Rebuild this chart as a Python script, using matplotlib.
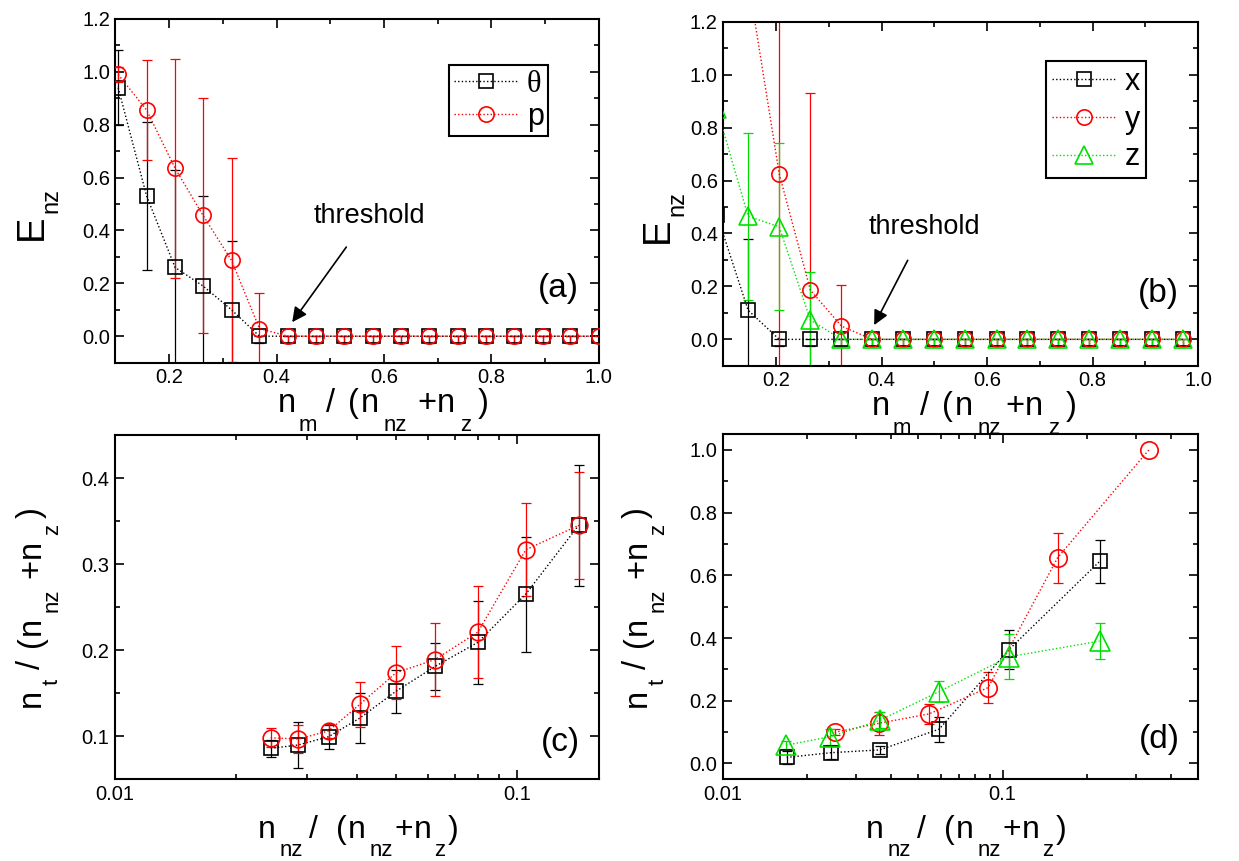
import numpy as np
import matplotlib
matplotlib.use("Agg")
import matplotlib.pyplot as plt
import matplotlib.ticker as mticker
from matplotlib.font_manager import FontProperties

plt.rcParams['font.family'] = ['Liberation Sans', 'DejaVu Sans']

# ---- panel (a): E_nz vs n_m/(n_nz+n_z), theta and p ----
xa = [0.105, 0.158, 0.211, 0.263, 0.316, 0.368, 0.421, 0.474, 0.526,
      0.579, 0.632, 0.684, 0.737, 0.789, 0.842, 0.895, 0.947, 1.0]
a_theta = [0.94, 0.53, 0.26, 0.19, 0.10, 0.0, 0, 0, 0, 0, 0, 0, 0, 0, 0, 0, 0, 0]
a_theta_err = [0.142, 0.28, 0.37, 0.34, 0.26, 0.025, 0.025, 0.025, 0.025, 0.025,
               0.025, 0.025, 0.025, 0.025, 0.025, 0.025, 0.025, 0.025]
a_p = [0.99, 0.855, 0.635, 0.457, 0.287, 0.029, 0, 0, 0, 0, 0, 0, 0, 0, 0, 0, 0, 0]
a_p_err = [0.03, 0.19, 0.415, 0.445, 0.386, 0.136, 0.025, 0.025, 0.025, 0.025,
           0.025, 0.025, 0.025, 0.025, 0.025, 0.025, 0.025, 0.025]

# ---- panel (b): E_nz, x / y / z ----
xb = [0.088, 0.147, 0.206, 0.265, 0.324, 0.382, 0.441, 0.5, 0.559,
      0.618, 0.676, 0.735, 0.794, 0.853, 0.912, 0.971]
b_x = [0.47, 0.11, 0, 0, 0, 0, 0, 0, 0, 0, 0, 0, 0, 0, 0, 0]
b_x_err = [0.05, 0.27, 0.025, 0.025, 0.025, 0.025, 0.025, 0.025, 0.025,
           0.025, 0.025, 0.025, 0.025, 0.025, 0.025, 0.025]
b_y = [1.6, 1.36, 0.625, 0.186, 0.05, 0, 0, 0, 0, 0, 0, 0, 0, 0, 0, 0]
b_y_err = [0.0, 0.0, 0.75, 0.744, 0.155, 0.025, 0.025, 0.025, 0.025,
           0.025, 0.025, 0.025, 0.025, 0.025, 0.025, 0.025]
b_z = [0.87, 0.465, 0.425, 0.073, 0, 0, 0, 0, 0, 0, 0, 0, 0, 0, 0, 0]
b_z_err = [0.0, 0.315, 0.315, 0.18, 0.025, 0.025, 0.025, 0.025, 0.025,
           0.025, 0.025, 0.025, 0.025, 0.025, 0.025, 0.025]

# ---- panel (c): n_t/(n_nz+n_z) vs n_nz/(n_nz+n_z), theta and p ----
xc = [0.0244, 0.0286, 0.034, 0.0407, 0.05, 0.0626, 0.08, 0.1052, 0.1424]
c_theta = [0.0857, 0.0896, 0.0992, 0.121, 0.152, 0.181, 0.209, 0.265, 0.345]
c_theta_err = [0.01, 0.027, 0.014, 0.029, 0.025, 0.027, 0.048, 0.067, 0.07]
c_p = [0.098, 0.0965, 0.106, 0.137, 0.1735, 0.189, 0.221, 0.3166, 0.345]
c_p_err = [0.011, 0.016, 0.008, 0.026, 0.031, 0.042, 0.054, 0.054, 0.062]

# ---- panel (d): x / y / z ----
xd_x = [0.0169, 0.0243, 0.0364, 0.0593, 0.1053, 0.2228]
d_x = [0.019, 0.034, 0.043, 0.109, 0.3625, 0.645]
d_x_err = [0.022, 0.02, 0.013, 0.04, 0.062, 0.068]
xd_y = [0.0251, 0.0362, 0.0547, 0.0888, 0.1573, 0.3334]
d_y = [0.099, 0.128, 0.158, 0.242, 0.656, 1.0]
d_y_err = [0.01, 0.036, 0.032, 0.05, 0.08, 0.0]
xd_z = [0.0168, 0.0242, 0.0364, 0.0593, 0.1053, 0.2222]
d_z = [0.058, 0.085, 0.1375, 0.229, 0.34, 0.39]
d_z_err = [0.012, 0.025, 0.025, 0.033, 0.072, 0.058]

BLACK = 'black'
RED = '#ff0000'
GREEN = '#00e000'
DOT = (0, (1.0, 1.6))
W, H = 1239, 861

# label pieces: (text, 'n' main / 's' subscript, gap before in px)
LBL_A_X = [('n', 'n', 0), ('m', 's', 3), ('/', 'n', 9), ('(', 'n', 13), ('n', 'n', 1),
           ('nz', 's', 5), ('+', 'n', 10), ('n', 'n', 1), ('z', 's', 5), (')', 'n', 6)]
LBL_B_X = [('n', 'n', 0), ('m', 's', 3), ('/', 'n', 9), ('(', 'n', 13), ('n', 'n', 1),
           ('nz', 's', 5), ('+', 'n', 4), ('n', 'n', 1), ('z', 's', 5), (')', 'n', 6)]
LBL_CD_X = [('n', 'n', 0), ('nz', 's', 4), ('/', 'n', 6), ('(', 'n', 18), ('n', 'n', 1),
            ('nz', 's', 4), ('+', 'n', 1), ('n', 'n', 1), ('z', 's', 3), (')', 'n', 2)]
LBL_CD_Y = [('n', 'n', 0), ('t', 's', 4), ('/', 'n', 10), ('(', 'n', 13), ('n', 'n', 1),
            ('nz', 's', 5), ('+', 'n', 10), ('n', 'n', 1), ('z', 's', 5), (')', 'n', 6)]
LBL_E = [('E', 'n', 0), ('nz', 's', 2)]


def series(ax, x, y, err, color, marker, ms, label=None):
    x = np.asarray(x, dtype=float)
    y = np.asarray(y, dtype=float)
    err = np.asarray(err, dtype=float)
    upper = np.where(y == 0, 0.0, err)
    m = err > 0
    ax.errorbar(x[m], y[m], yerr=[err[m], upper[m]], fmt='none', ecolor=color,
                elinewidth=0.9, capsize=3.5, capthick=0.9, zorder=2)
    ax.plot(x, y, color=color, linestyle=DOT, linewidth=1.0, marker=marker,
            markersize=ms, markerfacecolor='none', markeredgecolor=color,
            markeredgewidth=1.2, label=label, zorder=3)


def style(ax):
    for s in ax.spines.values():
        s.set_linewidth(1.5)
    ax.tick_params(which='both', direction='in', top=True, right=True,
                   labelsize=14.5, pad=4, width=1.2)
    ax.tick_params(which='major', length=6.5)
    ax.tick_params(which='minor', length=3.5)


def rich_label(fig, cx, cy, parts, size, sub_size, drop, vertical=False):
    # cx, cy: pixel position from top-left; centre along the text, main baseline across it
    r = fig.canvas.get_renderer()
    fmain = FontProperties(family='Liberation Sans', size=size)
    fsub = FontProperties(family='Liberation Sans', size=sub_size)
    widths = []
    for txt, kind, gap in parts:
        fp = fsub if kind == 's' else fmain
        w, h, d = r.get_text_width_height_descent(txt, fp, ismath=False)
        widths.append(w)
    total = sum(widths) + sum(p[2] for p in parts)
    pos = -total / 2
    for (txt, kind, gap), w in zip(parts, widths):
        pos += gap
        fp = fsub if kind == 's' else fmain
        off = drop if kind == 's' else 0
        if vertical:
            px, py, rot = cx + off, cy - pos, 90
        else:
            px, py, rot = cx + pos, cy + off, 0
        fig.text(px / W, 1 - py / H, txt, fontproperties=fp, rotation=rot,
                 rotation_mode='anchor', ha='left', va='baseline')
        pos += w


LBL = 24
fig = plt.figure(figsize=(12.39, 8.61), dpi=100)
ax_a = fig.add_axes([0.0932, 0.5788, 0.3902, 0.3992])
ax_b = fig.add_axes([0.5838, 0.5751, 0.3831, 0.3997])
ax_c = fig.add_axes([0.0928, 0.0952, 0.3906, 0.3995])
ax_d = fig.add_axes([0.5835, 0.0952, 0.3834, 0.4004])

# (a)
series(ax_a, xa, a_theta, a_theta_err, BLACK, 's', 10, 'θ')
series(ax_a, xa, a_p, a_p_err, RED, 'o', 11, 'p')
ax_a.set_xlim(0.1, 1.0)
ax_a.set_ylim(-0.1, 1.2)
ax_a.xaxis.set_major_locator(mticker.FixedLocator([0.2, 0.4, 0.6, 0.8, 1.0]))
ax_a.xaxis.set_minor_locator(mticker.MultipleLocator(0.1))
ax_a.yaxis.set_major_locator(mticker.MultipleLocator(0.2))
ax_a.yaxis.set_minor_locator(mticker.MultipleLocator(0.1))
ax_a.xaxis.set_major_formatter(mticker.FormatStrFormatter('%.1f'))
ax_a.yaxis.set_major_formatter(mticker.FormatStrFormatter('%.1f'))
style(ax_a)
ax_a.annotate('threshold', xy=(0.429, 0.053), xytext=(0.572, 0.43),
              fontsize=19.5, ha='center', va='baseline',
              arrowprops=dict(arrowstyle='-|>', color='black', lw=1.2,
                              mutation_scale=22, shrinkA=14, shrinkB=0))
ax_a.text(0.924, 0.18, '(a)', fontsize=LBL, ha='center', va='center')
leg = ax_a.legend(loc='upper left', bbox_to_anchor=(0.69, 0.866), fontsize=22,
                  handlelength=2.1, handletextpad=0.3, borderpad=0.15,
                  labelspacing=0.1, borderaxespad=0, fancybox=False,
                  framealpha=1, edgecolor='black')
leg.get_frame().set_linewidth(1.5)
leg.get_texts()[0].set_family('Liberation Serif')

# (b)
series(ax_b, xb, b_x, b_x_err, BLACK, 's', 10, 'x')
series(ax_b, xb, b_y, b_y_err, RED, 'o', 11, 'y')
series(ax_b, xb, b_z, b_z_err, GREEN, '^', 13, 'z')
ax_b.set_xlim(0.1, 1.0)
ax_b.set_ylim(-0.1, 1.2)
ax_b.xaxis.set_major_locator(mticker.FixedLocator([0.2, 0.4, 0.6, 0.8, 1.0]))
ax_b.xaxis.set_minor_locator(mticker.MultipleLocator(0.1))
ax_b.yaxis.set_major_locator(mticker.MultipleLocator(0.2))
ax_b.yaxis.set_minor_locator(mticker.MultipleLocator(0.1))
ax_b.xaxis.set_major_formatter(mticker.FormatStrFormatter('%.1f'))
ax_b.yaxis.set_major_formatter(mticker.FormatStrFormatter('%.1f'))
style(ax_b)
ax_b.annotate('threshold', xy=(0.386, 0.054), xytext=(0.482, 0.397),
              fontsize=19.5, ha='center', va='baseline',
              arrowprops=dict(arrowstyle='-|>', color='black', lw=1.2,
                              mutation_scale=22, shrinkA=14, shrinkB=0))
ax_b.text(0.924, 0.175, '(b)', fontsize=LBL, ha='center', va='center')
leg = ax_b.legend(loc='upper left', bbox_to_anchor=(0.679, 0.886), fontsize=22,
                  handlelength=2.1, handletextpad=0.3, borderpad=0.2,
                  labelspacing=0.25, borderaxespad=0, fancybox=False,
                  framealpha=1, edgecolor='black')
leg.get_frame().set_linewidth(1.5)

# (c)
series(ax_c, xc, c_theta, c_theta_err, BLACK, 's', 10.5)
series(ax_c, xc, c_p, c_p_err, RED, 'o', 12)
ax_c.set_xscale('log')
ax_c.set_xlim(0.01, 0.16)
ax_c.set_ylim(0.05, 0.45)
ax_c.yaxis.set_major_locator(mticker.MultipleLocator(0.1))
ax_c.yaxis.set_minor_locator(mticker.MultipleLocator(0.05))
ax_c.yaxis.set_major_formatter(mticker.FormatStrFormatter('%.1f'))
ax_c.xaxis.set_major_formatter(mticker.FuncFormatter(lambda v, p: f'{v:g}'))
ax_c.xaxis.set_minor_formatter(mticker.NullFormatter())
style(ax_c)
ax_c.text(0.128, 0.092, '(c)', fontsize=LBL, ha='center', va='center')

# (d)
series(ax_d, xd_x, d_x, d_x_err, BLACK, 's', 10.5)
series(ax_d, xd_y, d_y, d_y_err, RED, 'o', 12.5)
series(ax_d, xd_z, d_z, d_z_err, GREEN, '^', 14)
ax_d.set_xscale('log')
ax_d.set_xlim(0.01, 0.5)
ax_d.set_ylim(-0.05, 1.05)
ax_d.yaxis.set_major_locator(mticker.MultipleLocator(0.2))
ax_d.yaxis.set_minor_locator(mticker.MultipleLocator(0.1))
ax_d.yaxis.set_major_formatter(mticker.FormatStrFormatter('%.1f'))
ax_d.xaxis.set_major_formatter(mticker.FuncFormatter(lambda v, p: f'{v:g}'))
ax_d.xaxis.set_minor_formatter(mticker.NullFormatter())
style(ax_d)
ax_d.text(0.365, 0.075, '(d)', fontsize=LBL, ha='center', va='center')

# axis titles, Origin-style with deep subscripts
rich_label(fig, 383, 412, LBL_A_X, 23.5, 16, 19)
rich_label(fig, 974, 415, LBL_B_X, 23.5, 16, 19)
rich_label(fig, 358, 838, LBL_CD_X, 23, 16, 18)
rich_label(fig, 966, 838, LBL_CD_X, 23, 16, 18)
rich_label(fig, 42, 214, LBL_E, 27.5, 17, 15, vertical=True)
rich_label(fig, 668, 217, LBL_E, 27.5, 17, 15, vertical=True)
rich_label(fig, 40, 607, LBL_CD_Y, 23.5, 16, 18, vertical=True)
rich_label(fig, 646, 607, LBL_CD_Y, 23.5, 16, 18, vertical=True)

fig.savefig('out.png', dpi=100)
